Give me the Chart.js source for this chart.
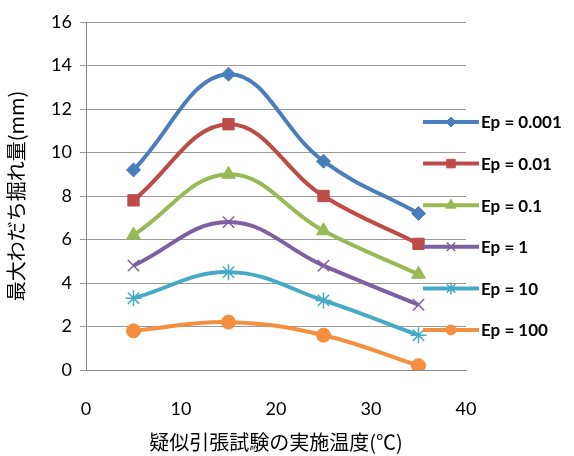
<!DOCTYPE html>
<html>
<head>
<meta charset="utf-8">
<script src="https://cdn.jsdelivr.net/npm/chart.js@4"></script>
<style>
  html, body { margin: 0; padding: 0; background: #fff; }
  #wrap { width: 574px; height: 456px; }
</style>
</head>
<body>
<div id="wrap"><canvas id="chart" width="574" height="456"></canvas></div>
<script>
// temperatures (x) and rut depth (y) per Ep
var temps = [5, 15, 25, 35];
var labels = ['Ep = 0.001', 'Ep = 0.01', 'Ep = 0.1', 'Ep = 1', 'Ep = 10', 'Ep = 100'];
var ep0001 = [9.2, 13.6, 9.6, 7.2];
var ep001 = [7.8, 11.3, 8.0, 5.8];
var ep01 = [6.2, 9.0, 6.4, 4.4];
var ep1 = [4.8, 6.8, 4.8, 3.0];
var ep10 = [3.3, 4.5, 3.2, 1.6];
var ep100 = [1.8, 2.2, 1.6, 0.2];

var seriesValues = [ep0001, ep001, ep01, ep1, ep10, ep100];
var colors = ['#4A7EBB', '#BE4B48', '#98B954', '#7D60A0', '#46AAC5', '#F38F3E'];
var markers = ['rectRot', 'rect', 'triangle', 'crossRot', 'star', 'circle'];
var markerSizes = [7, 8, 8, 8, 8, 7];

var datasets = [];
for (var i = 0; i < seriesValues.length; i++) {
    var pts = [];
    for (var j = 0; j < temps.length; j++) {
        pts.push({x: temps[j], y: seriesValues[i][j]});
    }
    datasets.push({
        label: labels[i],
        data: pts,
        borderColor: colors[i],
        backgroundColor: colors[i],
        borderWidth: 4,
        tension: 0.4,
        pointStyle: markers[i],
        pointRadius: markerSizes[i],
        pointBorderWidth: (markers[i] === 'crossRot' || markers[i] === 'star') ? 1.5 : 1,
        pointBorderColor: colors[i],
        pointBackgroundColor: colors[i]
    });
}

// legend drawn by hand so it can overlap the plot like the original
var sideLegend = {
    id: 'sideLegend',
    afterDraw: function (chart) {
        var ctx = chart.ctx;
        var x0 = 423, x1 = 479, top = 122, step = 41.6;
        ctx.save();
        chart.data.datasets.forEach(function (ds, k) {
            var y = top + k * step;
            ctx.strokeStyle = ds.borderColor;
            ctx.lineWidth = 4;
            ctx.beginPath();
            ctx.moveTo(x0, y);
            ctx.lineTo(x1, y);
            ctx.stroke();
            ctx.fillStyle = ds.backgroundColor;
            ctx.lineWidth = ds.pointBorderWidth;
            Chart.helpers.drawPoint(ctx, {
                pointStyle: ds.pointStyle,
                radius: ds.pointRadius - 2,
                rotation: 0,
                borderWidth: ds.pointBorderWidth
            }, (x0 + x1) / 2, y);
            ctx.fillStyle = '#000';
            ctx.font = 'bold 17px Lato';
            ctx.textBaseline = 'middle';
            ctx.textAlign = 'left';
            ctx.fillText(ds.label, 481, y + 1);
        });
        ctx.restore();
    }
};

Chart.defaults.font.family = 'Lato';

new Chart(document.getElementById('chart').getContext('2d'), {
    type: 'line',
    data: {datasets: datasets},
    options: {
        responsive: false,
        animation: false,
        layout: {padding: {left: 0, right: 108, top: 22, bottom: 0}},
        plugins: {
            legend: {display: false},
            tooltip: {enabled: false}
        },
        scales: {
            x: {
                type: 'linear',
                min: 0,
                max: 40,
                ticks: {stepSize: 10, color: '#000', font: {size: 18}, padding: 22},
                grid: {display: false, drawOnChartArea: false, tickLength: 6, tickColor: '#888'},
                border: {color: '#888', width: 1},
                title: {
                    display: true,
                    text: '疑似引張試験の実施温度(℃)',
                    color: '#000',
                    font: {family: 'Noto Sans CJK JP', size: 20},
                    padding: {top: 0, bottom: 2}
                },
                afterFit: function (scale) { scale.height = 86; }
            },
            y: {
                min: 0,
                max: 16,
                ticks: {stepSize: 2, color: '#000', font: {size: 18}, padding: 8},
                grid: {color: '#9a9a9a', tickLength: 6, tickColor: '#9a9a9a'},
                border: {color: '#888', width: 1},
                title: {
                    display: true,
                    text: '最大わだち掘れ量(mm)',
                    color: '#000',
                    font: {family: 'Noto Sans CJK JP', size: 20},
                    padding: {bottom: 0}
                },
                afterFit: function (scale) { scale.width = 86; }
            }
        }
    },
    plugins: [sideLegend]
});
</script>
</body>
</html>
